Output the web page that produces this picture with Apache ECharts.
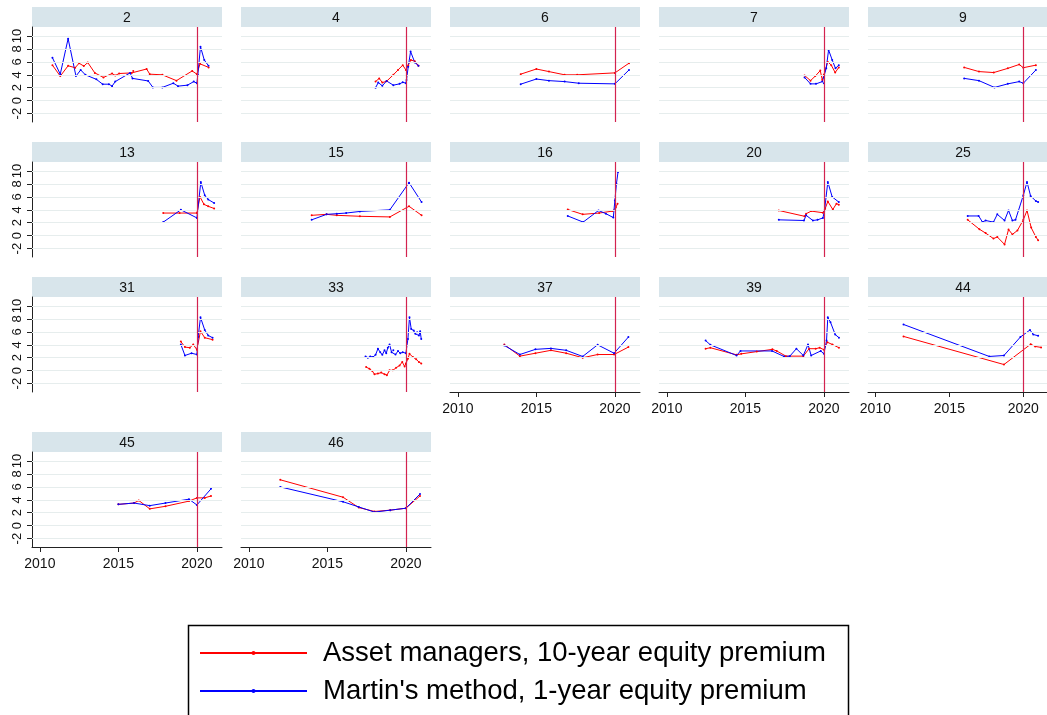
<!DOCTYPE html>
<html><head><meta charset="utf-8">
<script src="https://cdn.jsdelivr.net/npm/echarts@6/dist/echarts.min.js"></script>
<style>html,body{margin:0;padding:0;background:#fff}#c{width:1047px;height:715px}</style>
</head><body><div id="c"></div>
<script>
const panelLabels = ['2','4','6','7','9','13','15','16','20','25','31','33','37','39','44','45','46'];
const xTickLabels = [2010, 2015, 2020];
const yTickLabels = [-2, 0, 2, 4, 6, 8, 10];
const eventYear = 2020;
const seriesNames = ['Asset managers, 10-year equity premium', "Martin's method, 1-year equity premium"];

// [year, percent] — red: asset managers; blue: Martin's method
const am_2 = [[2010.8,5.5],[2011.3,3.8],[2011.8,5.4],[2012.25,5.1],[2012.5,5.8],[2012.8,5.35],[2013.05,5.9],[2013.5,4.3],[2014.05,3.6],[2014.6,4.2],[2014.8,3.9],[2015.05,4.2],[2015.85,4.3],[2015.95,4.6],[2016.8,4.9],[2017.0,4.1],[2017.8,4.0],[2018.7,3.1],[2019.7,4.6],[2020.0,4.1],[2020.2,5.7],[2020.75,5.15]];
const mm_2 = [[2010.8,6.65],[2011.3,4.1],[2011.8,9.6],[2012.3,3.8],[2012.6,4.75],[2012.9,4.0],[2013.6,3.3],[2014.0,2.55],[2014.4,2.55],[2014.6,2.25],[2014.8,2.95],[2015.75,4.3],[2015.9,3.45],[2016.9,3.05],[2017.2,2.05],[2017.8,2.05],[2018.5,2.7],[2018.8,2.25],[2019.4,2.4],[2019.8,2.95],[2020.0,2.7],[2020.06,4.0],[2020.23,8.35],[2020.47,6.3],[2020.74,5.4]];
const am_4 = [[2018.07,2.95],[2018.3,3.45],[2018.5,2.8],[2018.77,3.0],[2019.2,4.0],[2019.5,4.75],[2019.8,5.5],[2020.0,4.75],[2020.15,5.5],[2020.32,6.3],[2020.57,6.1],[2020.8,5.4]];
const mm_4 = [[2018.07,2.0],[2018.24,2.8],[2018.5,2.3],[2018.77,3.05],[2019.2,2.4],[2019.6,2.6],[2019.8,2.85],[2020.0,2.7],[2020.04,3.2],[2020.15,5.25],[2020.3,7.6],[2020.57,5.9],[2020.8,5.4]];
const am_6 = [[2014.0,4.1],[2015.0,4.9],[2015.8,4.5],[2016.8,4.0],[2017.6,4.0],[2020.0,4.3],[2020.9,5.8]];
const mm_6 = [[2014.0,2.55],[2015.0,3.35],[2015.8,3.1],[2016.8,2.95],[2017.7,2.7],[2020.0,2.6],[2020.9,4.75]];
const am_7 = [[2018.77,3.9],[2019.15,3.1],[2019.45,3.8],[2019.77,4.65],[2019.9,3.2],[2020.0,4.0],[2020.25,6.0],[2020.47,5.5],[2020.72,4.35],[2020.95,5.15]];
const mm_7 = [[2018.77,3.6],[2019.15,2.6],[2019.5,2.6],[2019.9,2.95],[2020.0,2.7],[2020.15,5.0],[2020.3,7.85],[2020.53,6.3],[2020.74,5.0],[2020.95,5.5]];
const am_9 = [[2016.0,5.15],[2017.0,4.5],[2018.0,4.35],[2018.95,5.0],[2019.72,5.6],[2020.0,5.1],[2020.85,5.5]];
const mm_9 = [[2016.0,3.45],[2017.0,3.1],[2018.05,2.05],[2018.95,2.6],[2019.72,2.95],[2020.0,2.7],[2020.85,4.75]];
const am_13 = [[2017.86,3.5],[2018.9,3.5],[2020.0,3.5],[2020.2,6.0],[2020.45,4.85],[2020.72,4.55],[2021.1,4.2]];
const mm_13 = [[2017.86,2.1],[2018.98,4.0],[2020.0,2.75],[2020.25,8.3],[2020.5,6.25],[2020.72,5.6],[2021.1,5.05]];
const am_15 = [[2014.0,3.15],[2014.95,3.3],[2015.6,3.15],[2017.07,3.0],[2018.98,2.9],[2020.2,4.55],[2021.0,3.15]];
const mm_15 = [[2014.0,2.45],[2014.95,3.3],[2015.6,3.4],[2016.2,3.5],[2017.07,3.75],[2018.98,4.0],[2020.2,8.2],[2021.0,5.2]];
const am_16 = [[2017.0,4.05],[2017.95,3.3],[2019.0,3.5],[2019.85,3.8],[2020.06,4.35],[2020.17,4.95]];
const mm_16 = [[2017.0,3.05],[2017.98,2.1],[2018.96,3.9],[2019.43,3.4],[2019.9,2.8],[2020.0,5.45],[2020.1,8.05],[2020.2,9.85]];
const am_20 = [[2017.13,3.9],[2018.77,3.0],[2018.87,3.4],[2019.2,3.8],[2019.94,3.55],[2020.08,4.15],[2020.25,5.3],[2020.57,4.05],[2020.8,4.95],[2020.95,4.8]];
const mm_20 = [[2017.13,2.45],[2018.73,2.35],[2018.87,3.15],[2019.3,2.35],[2019.6,2.45],[2019.94,2.75],[2020.04,3.9],[2020.25,8.3],[2020.53,6.0],[2020.95,5.2]];
const am_25 = [[2016.24,2.45],[2017.03,1.0],[2017.45,0.4],[2017.98,-0.45],[2018.24,-0.2],[2018.73,-1.35],[2019.0,0.95],[2019.26,0.2],[2019.6,0.8],[2020.0,2.45],[2020.25,3.9],[2020.53,1.25],[2020.85,-0.2],[2021.0,-0.7]];
const mm_25 = [[2016.24,3.05],[2016.98,3.05],[2017.24,2.1],[2017.45,2.35],[2017.98,2.1],[2018.24,3.3],[2018.73,2.35],[2019.0,3.9],[2019.26,2.35],[2019.47,2.45],[2020.0,6.25],[2020.25,8.3],[2020.49,6.15],[2020.85,5.35],[2021.0,5.2]];
const am_31 = [[2018.98,4.5],[2019.24,3.65],[2019.55,3.55],[2019.77,4.05],[2020.0,3.25],[2020.23,6.1],[2020.5,5.1],[2021.0,4.8]];
const mm_31 = [[2018.98,4.05],[2019.24,2.35],[2019.66,2.7],[2020.0,2.5],[2020.08,5.2],[2020.23,8.25],[2020.5,6.3],[2020.72,5.45],[2021.0,5.1]];
const am_33 = [[2017.47,0.55],[2017.68,0.3],[2017.86,-0.05],[2018.0,-0.55],[2018.22,-0.45],[2018.43,-0.3],[2018.64,-0.55],[2018.79,-0.7],[2018.96,0.05],[2019.17,0.05],[2019.38,0.45],[2019.6,0.8],[2019.77,1.35],[2019.92,0.65],[2020.0,1.1],[2020.13,1.85],[2020.23,2.6],[2020.45,2.1],[2020.66,1.75],[2020.83,1.35],[2020.98,1.1]];
const mm_33 = [[2017.43,2.2],[2017.58,2.0],[2017.73,2.2],[2017.9,2.1],[2018.07,2.45],[2018.22,3.4],[2018.37,2.85],[2018.5,2.45],[2018.64,3.15],[2018.75,2.7],[2018.85,3.55],[2018.96,4.05],[2019.09,2.85],[2019.2,3.15],[2019.34,2.5],[2019.5,3.05],[2019.64,2.7],[2019.8,2.85],[2020.0,2.7],[2020.13,4.9],[2020.23,8.25],[2020.34,6.45],[2020.5,6.2],[2020.6,5.7],[2020.72,5.95],[2020.83,5.45],[2020.91,6.1],[2020.98,4.9]];
const am_37 = [[2012.96,4.05],[2013.95,2.25],[2014.94,2.7],[2015.93,3.15],[2016.9,2.7],[2017.95,2.0],[2018.9,2.5],[2019.95,2.5],[2020.86,3.65]];
const mm_37 = [[2012.96,3.9],[2013.95,2.5],[2014.94,3.3],[2015.93,3.45],[2016.9,3.15],[2017.95,2.2],[2018.9,4.0],[2019.95,2.7],[2020.86,5.2]];
const am_39 = [[2012.47,3.4],[2012.77,3.55],[2014.44,2.45],[2014.74,2.6],[2015.73,2.95],[2016.72,3.3],[2017.0,3.05],[2017.58,2.25],[2018.69,2.25],[2019.06,3.4],[2019.48,3.4],[2019.73,3.55],[2020.0,3.25],[2020.22,4.4],[2020.54,4.05],[2020.96,3.55]];
const mm_39 = [[2012.47,4.65],[2012.77,4.0],[2014.44,2.35],[2014.69,3.05],[2016.7,3.05],[2017.46,2.2],[2017.83,2.25],[2018.25,3.4],[2018.69,2.35],[2018.99,4.05],[2019.19,2.35],[2019.8,3.05],[2020.0,2.6],[2020.17,4.65],[2020.25,8.25],[2020.42,7.5],[2020.72,5.6],[2020.96,5.1]];
const am_44 = [[2011.9,5.3],[2018.69,0.95],[2020.5,4.1],[2020.8,3.75],[2021.2,3.6]];
const mm_44 = [[2011.9,7.15],[2017.7,2.2],[2018.69,2.35],[2019.8,5.2],[2020.45,6.3],[2020.67,5.6],[2021.0,5.4]];
const am_45 = [[2015.0,3.3],[2016.0,3.5],[2016.3,3.9],[2017.0,2.6],[2018.0,3.0],[2019.5,3.8],[2020.0,4.3],[2020.5,4.3],[2020.9,4.6]];
const mm_45 = [[2015.0,3.3],[2016.0,3.5],[2017.0,3.1],[2018.0,3.5],[2019.5,4.1],[2020.0,3.2],[2020.9,5.7]];
const am_46 = [[2012.0,7.1],[2016.0,4.4],[2017.0,2.8],[2018.0,2.2],[2019.0,2.4],[2020.0,2.7],[2020.9,4.6]];
const mm_46 = [[2012.0,6.0],[2016.0,3.7],[2017.0,2.9],[2018.0,2.1],[2019.0,2.4],[2020.0,2.7],[2020.9,4.9]];

const amData = [am_2,am_4,am_6,am_7,am_9,am_13,am_15,am_16,am_20,am_25,am_31,am_33,am_37,am_39,am_44,am_45,am_46];
const mmData = [mm_2,mm_4,mm_6,mm_7,mm_9,mm_13,mm_15,mm_16,mm_20,mm_25,mm_31,mm_33,mm_37,mm_39,mm_44,mm_45,mm_46];

const FONT = "'Liberation Sans', Arial, sans-serif";
const colLeft = [32, 241, 450, 659, 868];
const rowTop = [7, 142, 277, 432];
const PW = 190, HH = 20, PH = 95;
const XMIN = 2009.5, XMAX = 2021.6, YMIN = -3.3, YMAX = 11.4;

const grids = [], xAxes = [], yAxes = [], series = [], graphics = [];
panelLabels.forEach((lab, i) => {
  const r = Math.floor(i / 5), c = i % 5;
  const left = colLeft[c], top = rowTop[r];
  const showX = i + 5 >= panelLabels.length;
  const showY = c === 0;
  grids.push({left: left, top: top + HH, width: PW, height: PH, containLabel: false});
  xAxes.push({
    type: 'value', gridIndex: i, min: XMIN, max: XMAX,
    splitLine: {show: false},
    axisLine: {show: showX, onZero: false, lineStyle: {color: '#222', width: 1}},
    axisTick: {show: showX, length: 5, customValues: xTickLabels, lineStyle: {color: '#222'}},
    axisLabel: {show: showX, customValues: xTickLabels, margin: 10, fontSize: 14, color: '#111', fontFamily: FONT,
      formatter: v => String(v)}
  });
  yAxes.push({
    type: 'value', gridIndex: i, min: YMIN, max: YMAX,
    splitLine: {show: false},
    axisLine: {show: showY, onZero: false, lineStyle: {color: '#222', width: 1}},
    axisTick: {show: showY, length: 5, customValues: yTickLabels, lineStyle: {color: '#222'}},
    axisLabel: {show: showY, customValues: yTickLabels, rotate: 90, margin: 8, fontSize: 13, color: '#111', fontFamily: FONT,
      formatter: v => String(v)}
  });
  series.push({
    type: 'line', xAxisIndex: i, yAxisIndex: i, data: [], silent: true, z: 1,
    markLine: {
      silent: true, symbol: ['none', 'none'], label: {show: false}, animation: false,
      data: yTickLabels.map(v => ({yAxis: v, lineStyle: {color: '#e6eded', width: 1, type: 'solid'}}))
        .concat([{xAxis: eventYear, lineStyle: {color: '#d3234f', width: 1.2, type: 'solid'}}])
    }
  });
  series.push({
    type: 'line', name: seriesNames[0], xAxisIndex: i, yAxisIndex: i, data: amData[i], z: 3,
    symbol: 'circle', symbolSize: 2, showSymbol: true,
    color: '#ff0000', lineStyle: {color: '#ff0000', width: 1}, itemStyle: {color: '#ff0000'}
  });
  series.push({
    type: 'line', name: seriesNames[1], xAxisIndex: i, yAxisIndex: i, data: mmData[i], z: 3,
    symbol: 'circle', symbolSize: 2, showSymbol: true,
    color: '#0000ff', lineStyle: {color: '#0000ff', width: 1}, itemStyle: {color: '#0000ff'}
  });
  graphics.push({type: 'rect', shape: {x: left, y: top, width: PW, height: HH}, style: {fill: '#d8e5eb'}, silent: true});
  graphics.push({type: 'text', x: left + PW / 2, y: top + HH / 2 + 1,
    style: {text: lab, fill: '#111', font: '14px ' + FONT, align: 'center', verticalAlign: 'middle'}, silent: true});
});
graphics.push({type: 'rect', shape: {x: 188.5, y: 625.5, width: 660, height: 140},
  style: {fill: 'none', stroke: '#000', lineWidth: 1.5}, silent: true, z: 10});

const chart = echarts.init(document.getElementById('c'), null, {renderer: 'canvas'});
chart.setOption({
  animation: false,
  backgroundColor: '#fff',
  grid: grids, xAxis: xAxes, yAxis: yAxes, series: series,
  graphic: graphics,
  legend: {
    data: seriesNames, orient: 'vertical', left: 194, top: 633,
    itemWidth: 107, itemHeight: 5, itemGap: 8, selectedMode: false,
    lineStyle: {width: 2},
    textStyle: {fontSize: 27.5, color: '#000', fontFamily: FONT, lineHeight: 30, padding: [0, 0, 0, 11]}
  }
});
</script></body></html>
